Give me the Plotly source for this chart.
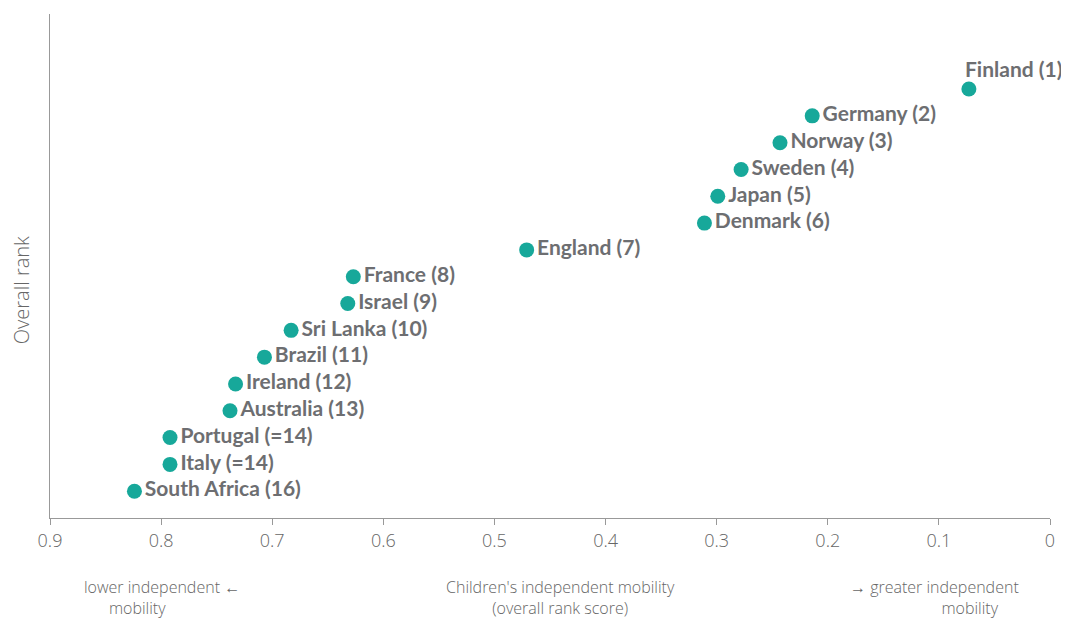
import plotly.graph_objects as go

countries = ["Finland", "Germany", "Norway", "Sweden", "Japan", "Denmark", "England",
             "France", "Israel", "Sri Lanka", "Brazil", "Ireland", "Australia",
             "Portugal", "Italy", "South Africa"]
rank_labels = ["1", "2", "3", "4", "5", "6", "7", "8", "9", "10", "11", "12", "13",
               "=14", "=14", "16"]
scores = [0.073, 0.214, 0.243, 0.278, 0.299, 0.311, 0.471, 0.627, 0.632, 0.683,
          0.707, 0.733, 0.738, 0.792, 0.792, 0.824]
positions = list(range(1, 17))
x_ticks = [0.9, 0.8, 0.7, 0.6, 0.5, 0.4, 0.3, 0.2, 0.1, 0]
x_tick_text = ["0.9", "0.8", "0.7", "0.6", "0.5", "0.4", "0.3", "0.2", "0.1", "0"]

teal = "#17a89a"
grey = "#6d6e71"
light = "#666666"
BOLD_FONT = "Lato"
LIGHT_FONT = "Open Sans"

labels = [f"{c} ({r})" for c, r in zip(countries, rank_labels)]
# first label (Finland) is placed above its marker as an annotation
trace_text = [""] + labels[1:]

fig = go.Figure()
fig.add_trace(go.Scatter(
    x=scores, y=positions, mode="markers+text",
    marker=dict(color=teal, size=15),
    text=trace_text, textposition="middle right",
    textfont=dict(family=BOLD_FONT, size=21, color=grey, weight="bold"),
    cliponaxis=False, hoverinfo="skip", showlegend=False,
))

light_font = dict(family=LIGHT_FONT, size=16, color=light, weight=300)
NB = "\u00a0"

annotations = [
    dict(text=labels[0], x=scores[0], y=positions[0], xref="x", yref="y",
         xanchor="left", yanchor="middle", xshift=-6, yshift=21, showarrow=False,
         font=dict(family=BOLD_FONT, size=21, color=grey, weight="bold")),
    dict(text="Overall rank", xref="paper", yref="paper", x=-0.029, y=0.452,
         textangle=-90, showarrow=False,
         font=dict(family=LIGHT_FONT, size=20, color=light, weight=300),
         xanchor="center", yanchor="middle"),
    dict(text="lower independent ←<br>" + NB * 6 + "mobility",
         xref="paper", yref="paper", x=0.032, y=-0.158, align="left",
         showarrow=False, font=light_font, xanchor="left", yanchor="middle"),
    dict(text="Children's independent mobility<br>(overall rank score)",
         xref="paper", yref="paper", x=0.51, y=-0.158, align="center",
         showarrow=False, font=light_font, xanchor="center", yanchor="middle"),
    dict(text="→ greater independent<br>" + NB * 22 + "mobility",
         xref="paper", yref="paper", x=0.798, y=-0.158, align="left",
         showarrow=False, font=light_font, xanchor="left", yanchor="middle"),
]

fig.update_layout(
    width=1061, height=610,
    margin=dict(l=42, r=19, t=6, b=100),
    paper_bgcolor="white", plot_bgcolor="white",
    font=dict(family=LIGHT_FONT, color=light),
    xaxis=dict(
        range=[0.9, 0], tickvals=x_ticks, ticktext=x_tick_text,
        showgrid=False, zeroline=False, showline=True, linecolor="#999999", linewidth=1,
        ticks="outside", ticklen=6, tickcolor="#999999",
        tickfont=dict(family=LIGHT_FONT, size=18, color=light, weight=300), fixedrange=True,
    ),
    yaxis=dict(
        range=[17, -1.8], showticklabels=False, showgrid=False, zeroline=False,
        showline=True, linecolor="#999999", linewidth=1, ticks="", fixedrange=True,
    ),
    annotations=annotations,
)

fig.write_html("out.html")
